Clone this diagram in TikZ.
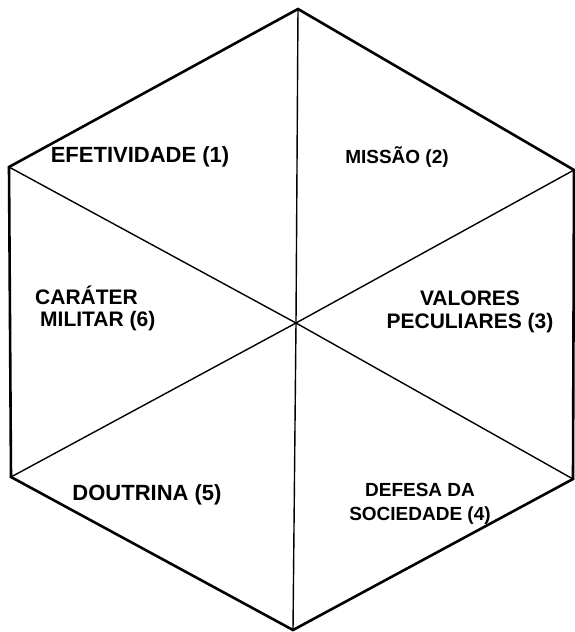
\documentclass[tikz,border=0pt]{standalone}
\usepackage{fontspec}
\setmainfont{Liberation Sans}
\usepackage{xcolor}
\usepackage{tikz}
\usetikzlibrary{positioning}

\begin{document}
\begin{tikzpicture}[
    x=1pt, y=-1pt,
    rim/.style={line width=2.6pt, line join=miter},
    spoke/.style={line width=1.4pt},
    label/.style={font=\fontsize{21}{22}\selectfont\bfseries, inner sep=0pt}
]
    \useasboundingbox (0,0) rectangle (575,632);

    % Corners
    \coordinate (top) at (298,9);
    \coordinate (upright) at (574,170);
    \coordinate (lowright) at (573,479);
    \coordinate (bottom) at (293,630);
    \coordinate (lowleft) at (11,477);
    \coordinate (upleft) at (9,167);
    \coordinate (hub) at (296,323);

    % Outline
    \draw[rim] (top) -- (upright) -- (lowright) -- (bottom) -- (lowleft) -- (upleft) -- cycle;

    % Spokes
    \draw[spoke] (hub) -- (top);
    \draw[spoke] (hub) -- (upright);
    \draw[spoke] (hub) -- (lowright);
    \draw[spoke] (hub) -- (bottom);
    \draw[spoke] (hub) -- (lowleft);
    \draw[spoke] (hub) -- (upleft);

    % Labels
    \node[label, font=\fontsize{22}{22}\selectfont\bfseries] (efet) at (140,157) {EFETIVIDADE (1)};
    \node[label, font=\fontsize{19}{22}\selectfont\bfseries] (missao) at (397,157) {MISSÃO (2)};
    \node[label, align=center, font=\fontsize{21}{23}\selectfont\bfseries] (valores) at (470,312) {VALORES\\PECULIARES (3)};
    \node[label, align=center, font=\fontsize{19}{24}\selectfont\bfseries] (defesa) at (420,504) {DEFESA DA\\SOCIEDADE (4)};
    \node[label, font=\fontsize{22}{22}\selectfont\bfseries] (doutrina) at (147,495) {DOUTRINA (5)};
    \node[label, align=left, anchor=west] (carater) at (35,308) {CARÁTER\\\hspace*{5pt}MILITAR (6)};
\end{tikzpicture}
\end{document}
